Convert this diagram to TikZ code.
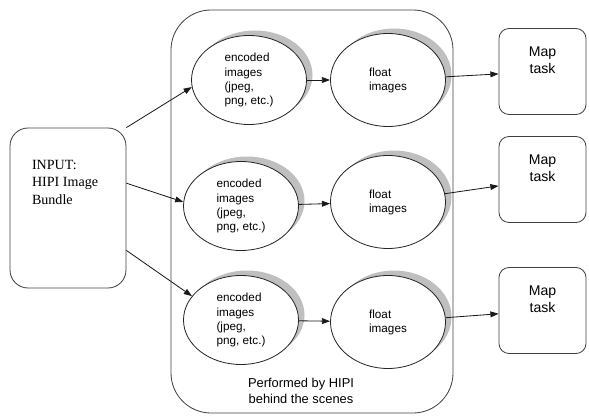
\documentclass[tikz,border=0pt]{standalone}
\usepackage{fontspec}
\setmainfont{Liberation Serif}
\setsansfont{Liberation Sans}
\usetikzlibrary{shapes.geometric, shadows, arrows.meta, positioning}

\begin{document}
\begin{tikzpicture}[x=0.03cm, y=-0.03cm,
    node distance=0.5cm,
    inbox/.style={rectangle, draw=black!75, line width=0.7pt, rounded corners=0.54cm, minimum width=3.48cm, minimum height=4.8cm},
    group/.style={rectangle, draw=black!75, line width=0.7pt, rounded corners=1.2cm, minimum width=8.46cm, minimum height=12.09cm},
    blob/.style={ellipse, draw=black!85, line width=0.7pt, fill=white, inner sep=0pt, minimum width=3.45cm, minimum height=2.67cm, align=left, font=\sffamily\fontsize{10}{12}\selectfont,
        drop shadow={shadow xshift=0.18cm, shadow yshift=0.15cm, fill=black!25, opacity=1}},
    mapbox/.style={rectangle, draw=black!75, line width=0.7pt, rounded corners=0.3cm, minimum width=2.61cm, minimum height=2.58cm},
    maptext/.style={align=center, font=\sffamily\fontsize{12}{14.4}\selectfont},
    arrow/.style={-{Triangle[length=7pt, width=5pt]}, line width=0.7pt, black!90}
]
    \useasboundingbox (0,0) rectangle (589,416);

    % Container drawn by HIPI
    \node[group] (hipi) at (312, 211.5) {};
    \node[align=center, font=\sffamily\fontsize{11}{13}\selectfont] (hipitext) at (301, 391) {Performed by HIPI\\behind the scenes};

    % Input bundle
    \node[inbox] (input) at (68, 208) {};
    \node[align=left, font=\fontsize{12}{15}\selectfont, anchor=north west, below right=0.85cm and 0.55cm of input.north west] (intext) {INPUT:\\HIPI Image\\Bundle};

    % Encoded images
    \node[blob] (enc1) at (249, 80) {encoded\\images\\(jpeg,\\png, etc.)};
    \node[blob] (enc2) at (241, 206) {encoded\\images\\(jpeg,\\png, etc.)};
    \node[blob] (enc3) at (241, 320) {encoded\\images\\(jpeg,\\png, etc.)};

    % Float images
    \node[blob, minimum height=2.79cm] (flt1) at (388, 80) {float\\images};
    \node[blob, minimum height=2.79cm] (flt2) at (388, 202) {float\\images};
    \node[blob, minimum height=2.79cm] (flt3) at (388, 322) {float\\images};

    % Map tasks
    \node[mapbox] (map1) at (542.5, 71.5) {};
    \node[mapbox] (map2) at (542.5, 179.5) {};
    \node[mapbox] (map3) at (542.5, 310.5) {};
    \node[maptext, below=0.45cm of map1.north] (map1text) {Map\\task};
    \node[maptext, below=0.45cm of map2.north] (map2text) {Map\\task};
    \node[maptext, below=0.45cm of map3.north] (map3text) {Map\\task};

    % Arrows from the bundle
    \draw[arrow] (input.north east) -- (enc1.187);
    \draw[arrow] (input.23) -- (enc2.176);
    \draw[arrow] (input.324) -- (enc3.154);

    % Decoding
    \draw[arrow] (enc1) -- (flt1);
    \draw[arrow] (enc2) -- (flt2);
    \draw[arrow] (enc3) -- (flt3);

    % To the map tasks
    \draw[arrow] (flt1) -- (map1);
    \draw[arrow] (flt2) -- (map2);
    \draw[arrow] (flt3) -- (map3);
\end{tikzpicture}
\end{document}
